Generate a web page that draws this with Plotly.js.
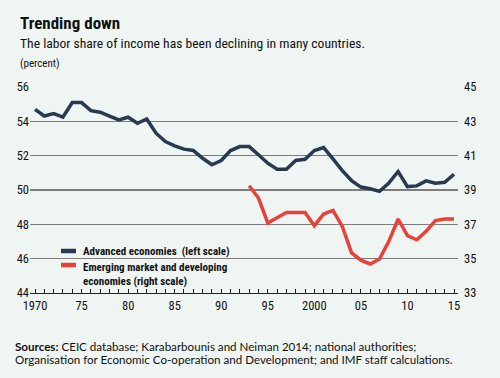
<!DOCTYPE html>
<html>
<head>
<meta charset="utf-8">
<script src="https://cdn.plot.ly/plotly-3.0.1.min.js"></script>
<style>
html,body{margin:0;padding:0;background:#eff5f3;}
#chart{width:500px;height:378px;}
</style>
</head>
<body>
<div id="chart"></div>
<script>
// Data
const years = [1970,1971,1972,1973,1974,1975,1976,1977,1978,1979,1980,1981,1982,1983,1984,1985,1986,1987,1988,1989,1990,1991,1992,1993,1994,1995,1996,1997,1998,1999,2000,2001,2002,2003,2004,2005,2006,2007,2008,2009,2010,2011,2012,2013,2014,2015];
const advanced = [54.70,54.31,54.45,54.25,55.09,55.09,54.62,54.53,54.31,54.08,54.24,53.89,54.14,53.31,52.82,52.57,52.38,52.30,51.85,51.47,51.72,52.30,52.53,52.53,52.05,51.56,51.21,51.21,51.72,51.79,52.30,52.47,51.81,51.13,50.55,50.17,50.07,49.92,50.40,51.08,50.20,50.24,50.53,50.40,50.45,50.92];
const emergingYears = [1993,1994,1995,1996,1997,1998,1999,2000,2001,2002,2003,2004,2005,2006,2007,2008,2009,2010,2011,2012,2013,2014,2015];
const emerging = [39.25,38.53,37.08,37.37,37.69,37.69,37.69,36.92,37.60,37.81,36.88,35.34,34.91,34.69,34.98,36.01,37.31,36.34,36.10,36.59,37.22,37.31,37.31];
const xTickVals = [1970,1975,1980,1985,1990,1995,2000,2005,2010,2015];
const xTickText = ['1970','75','80','85','90','95','2000','05','10','15'];
const leftTicks = [44,46,48,50,52,54,56];
const rightTicks = [33,35,37,39,41,43,45];
const seriesNames = ['Advanced economies  (left scale)', 'Emerging market and developing<br>economies (right scale)'];

const NARROW = '"Liberation Sans Narrow", "Arial Narrow", "Roboto Condensed", "Liberation Sans", sans-serif';
const REG = 'Lato, "Open Sans", "Liberation Sans", sans-serif';
const BG = '#eff5f3';
const NAVY = '#283a50';
const RED = '#e8413a';

const traces = [
  {x: years, y: advanced, type: 'scatter', mode: 'lines', name: seriesNames[0],
   line: {color: NAVY, width: 3.5}, yaxis: 'y', showlegend: false},
  {x: emergingYears, y: emerging, type: 'scatter', mode: 'lines', name: seriesNames[1].replace('<br>', ' '),
   line: {color: RED, width: 3.5}, yaxis: 'y2', showlegend: false}
];

// paper-coordinate helpers for the 30..458 x 87..293 plot box
const px = v => (v - 30) / 428;
const py = v => (293 - v) / 206;

const legFont = {family: NARROW, size: 11, color: '#111'};
const layout = {
  width: 500, height: 378,
  paper_bgcolor: BG, plot_bgcolor: BG,
  margin: {l: 30, r: 42, t: 87, b: 85},
  showlegend: false,
  xaxis: {range: [1969.46, 2015.43], tickvals: xTickVals, ticktext: xTickText,
          ticks: 'inside', ticklen: 4, tickwidth: 1, tickcolor: '#222',
          minor: {dtick: 1, ticks: 'inside', ticklen: 4, tickwidth: 1, tickcolor: '#222'},
          showline: true, linecolor: '#222', linewidth: 1, showgrid: false, zeroline: false,
          ticklabelstandoff: 1,
          tickfont: {family: NARROW, size: 12.5, color: '#111'}, fixedrange: true},
  yaxis: {range: [44, 56], tickvals: leftTicks, showgrid: true, gridcolor: '#7d7d7d', gridwidth: 1.3,
          zeroline: false, ticks: '', showline: false,
          tickfont: {family: NARROW, size: 12.5, color: '#111'}, fixedrange: true},
  yaxis2: {range: [33, 45], tickvals: rightTicks, overlaying: 'y', side: 'right', showgrid: false,
           zeroline: false, ticks: '', showline: false, ticklabelstandoff: 5,
           tickfont: {family: NARROW, size: 12.5, color: '#111'}, fixedrange: true},
  shapes: [
    {type: 'line', xref: 'paper', yref: 'paper', x0: px(61), x1: px(76), y0: py(251), y1: py(251),
     line: {color: NAVY, width: 4.5}},
    {type: 'line', xref: 'paper', yref: 'paper', x0: px(61), x1: px(76), y0: py(265), y1: py(265),
     line: {color: RED, width: 4.5}}
  ],
  annotations: [
    {text: '<b>Trending down</b>', xref: 'paper', yref: 'paper', x: -0.028, y: 1.311, xanchor: 'left', yanchor: 'middle',
     showarrow: false, font: {family: NARROW, size: 17, color: '#111'}},
    {text: 'The labor share of income has been declining in many countries.', xref: 'paper', yref: 'paper', x: -0.028, y: 1.214,
     xanchor: 'left', yanchor: 'middle', showarrow: false, font: {family: NARROW, size: 13.6, color: '#111'}},
    {text: '(percent)', xref: 'paper', yref: 'paper', x: -0.028, y: 1.112, xanchor: 'left', yanchor: 'middle',
     showarrow: false, font: {family: NARROW, size: 11, color: '#111'}},
    {text: '<b>' + seriesNames[0] + '</b>', xref: 'paper', yref: 'paper', x: px(81), y: py(251), xanchor: 'left', yanchor: 'middle',
     showarrow: false, font: legFont},
    {text: '<b>' + seriesNames[1].replace('<br>', '</b><br><b>') + '</b>', xref: 'paper', yref: 'paper', x: px(81), y: py(258.5),
     xanchor: 'left', yanchor: 'top', align: 'left', showarrow: false, font: legFont},
    {text: '<b>Sources:</b> CEIC database; Karabarbounis and Neiman 2014; national authorities;', xref: 'paper', yref: 'paper',
     x: -0.040, y: -0.262, xanchor: 'left', yanchor: 'middle', showarrow: false, font: {family: REG, size: 11.6, color: '#111'}},
    {text: 'Organisation for Economic Co-operation and Development; and IMF staff calculations.', xref: 'paper', yref: 'paper',
     x: -0.040, y: -0.325, xanchor: 'left', yanchor: 'middle', showarrow: false, font: {family: REG, size: 11.6, color: '#111'}}
  ]
};

Plotly.newPlot('chart', traces, layout, {displayModeBar: false, staticPlot: true});
</script>
</body>
</html>
